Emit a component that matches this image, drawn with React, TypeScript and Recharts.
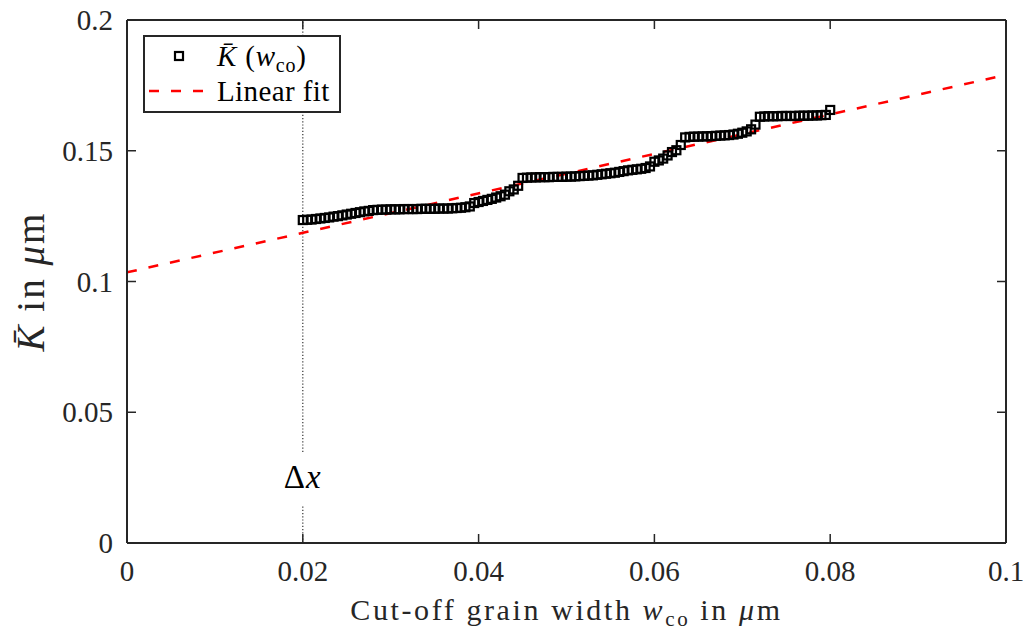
import React from "react";
import {
  ComposedChart,
  Scatter,
  Line,
  XAxis,
  YAxis,
  ReferenceLine,
  ReferenceDot,
} from "recharts";

// cut-off grain width (um) and mean K-bar values
const wco = [
  0.02, 0.0205, 0.021, 0.0215, 0.022, 0.0225, 0.023, 0.0235, 0.024, 0.0245,
  0.025, 0.0255, 0.026, 0.0265, 0.027, 0.0275, 0.028, 0.0285, 0.029, 0.0295,
  0.03, 0.0305, 0.031, 0.0315, 0.032, 0.0325, 0.033, 0.0335, 0.034, 0.0345,
  0.035, 0.0355, 0.036, 0.0365, 0.037, 0.0375, 0.038, 0.0385, 0.039, 0.0395,
  0.04, 0.0405, 0.041, 0.0415, 0.042, 0.0425, 0.043, 0.0435, 0.044, 0.0445,
  0.045, 0.0455, 0.046, 0.0465, 0.047, 0.0475, 0.048, 0.0485, 0.049, 0.0495,
  0.05, 0.0505, 0.051, 0.0515, 0.052, 0.0525, 0.053, 0.0535, 0.054, 0.0545,
  0.055, 0.0555, 0.056, 0.0565, 0.057, 0.0575, 0.058, 0.0585, 0.059, 0.0595,
  0.06, 0.0605, 0.061, 0.0615, 0.062, 0.0625, 0.063, 0.0635, 0.064, 0.0645,
  0.065, 0.0655, 0.066, 0.0665, 0.067, 0.0675, 0.068, 0.0685, 0.069, 0.0695,
  0.07, 0.0705, 0.071, 0.0715, 0.072, 0.0725, 0.073, 0.0735, 0.074, 0.0745,
  0.075, 0.0755, 0.076, 0.0765, 0.077, 0.0775, 0.078, 0.0785, 0.079, 0.0795,
  0.08,
];

const kBar = [
  0.1235, 0.1236, 0.1237, 0.1239, 0.1241, 0.1243, 0.1245, 0.1248, 0.125, 0.1253,
  0.1256, 0.1259, 0.1262, 0.1265, 0.1268, 0.127, 0.1273, 0.1274, 0.1275, 0.1275,
  0.1276, 0.1276, 0.1276, 0.1277, 0.1277, 0.1277, 0.1277, 0.1278, 0.1278, 0.1278,
  0.1278, 0.1279, 0.1279, 0.1279, 0.128, 0.1281, 0.1282, 0.1284, 0.1287, 0.13,
  0.1304, 0.1308, 0.1312, 0.1316, 0.1321, 0.1326, 0.1332, 0.1345, 0.1352, 0.1366,
  0.1396, 0.1397, 0.1398, 0.1398, 0.1399, 0.1399, 0.1399, 0.14, 0.14, 0.14,
  0.1401, 0.1401, 0.1402, 0.1403, 0.1404, 0.1405, 0.1406, 0.1408, 0.141, 0.1412,
  0.1414, 0.1416, 0.1419, 0.1422, 0.1425, 0.1427, 0.1429, 0.1431, 0.1434, 0.144,
  0.1458, 0.1463, 0.147, 0.1482, 0.1495, 0.1502, 0.1522, 0.1551, 0.1553, 0.1554,
  0.1554, 0.1555, 0.1555, 0.1556, 0.1557, 0.1558, 0.1559, 0.156, 0.1562, 0.1565,
  0.1569, 0.1574, 0.1582, 0.16, 0.163, 0.1631, 0.1632, 0.1632, 0.1632, 0.1633,
  0.1633, 0.1633, 0.1633, 0.1634, 0.1634, 0.1634, 0.1635, 0.1635, 0.1636, 0.1637,
  0.1656,
];

// linear fit end points
const fitX = [0, 0.1];
const fitY = [0.1035, 0.179];

const xTicks = [0, 0.02, 0.04, 0.06, 0.08, 0.1];
const xTickLabels = ["0", "0.02", "0.04", "0.06", "0.08", "0.1"];
const yTicks = [0, 0.05, 0.1, 0.15, 0.2];
const yTickLabels = ["0", "0.05", "0.1", "0.15", "0.2"];

const points = wco.map((x, i) => ({ x, y: kBar[i] }));
const fitData = fitX.map((x, i) => ({ x, y: fitY[i] }));

const FONT = "'Liberation Serif', 'Times New Roman', serif";
const AXIS = "#262626";
const W = 1015;
const H = 626;
const TOP = 12;
const BOTTOM = 535;
const LEFT = 119;
const RIGHT = 998;
const TICK = 9;

const BottomTick = (props: any) => {
  const { x, payload } = props;
  const i = xTicks.indexOf(payload.value);
  return (
    <g>
      <line x1={x} x2={x} y1={BOTTOM} y2={BOTTOM - TICK} stroke={AXIS} strokeWidth={1.5} />
      <text x={x} y={BOTTOM + 38} textAnchor="middle" fontFamily={FONT} fontSize={29} fill="#262626">
        {xTickLabels[i]}
      </text>
    </g>
  );
};

const TopTick = (props: any) => {
  const { x } = props;
  return <line x1={x} x2={x} y1={TOP} y2={TOP + TICK} stroke={AXIS} strokeWidth={1.5} />;
};

const LeftTick = (props: any) => {
  const { y, payload } = props;
  const i = yTicks.indexOf(payload.value);
  return (
    <g>
      <line x1={LEFT} x2={LEFT + TICK} y1={y} y2={y} stroke={AXIS} strokeWidth={1.5} />
      <text x={LEFT - 14} y={y + 10} textAnchor="end" fontFamily={FONT} fontSize={29} fill="#262626">
        {yTickLabels[i]}
      </text>
    </g>
  );
};

const RightTick = (props: any) => {
  const { y } = props;
  return <line x1={RIGHT} x2={RIGHT - TICK} y1={y} y2={y} stroke={AXIS} strokeWidth={1.5} />;
};

const SquareMarker = (props: any) => {
  const { cx, cy } = props;
  return <rect x={cx - 4} y={cy - 4} width={8} height={8} fill="none" stroke="#000" strokeWidth={2.2} />;
};

const XTitle = () => (
  <text
    x={(LEFT + RIGHT) / 2}
    y={BOTTOM + 77}
    textAnchor="middle"
    fontFamily={FONT}
    fontSize={30}
    letterSpacing={2.6}
    fill="#262626"
  >
    Cut-off grain width <tspan fontStyle="italic">w</tspan>
    <tspan fontSize={21} dy={6}>co</tspan>
    <tspan dy={-6}> in </tspan>
    <tspan fontStyle="italic">μ</tspan>m
  </text>
);

const YTitle = () => {
  const cx = 36;
  const cy = (TOP + BOTTOM) / 2;
  return (
    <text
      x={cx}
      y={cy}
      transform={`rotate(-90, ${cx}, ${cy})`}
      textAnchor="middle"
      fontFamily={FONT}
      fontSize={39}
      letterSpacing={2}
      fill="#262626"
    >
      <tspan fontStyle="italic">K̄</tspan> in <tspan fontStyle="italic">μ</tspan>m
    </text>
  );
};

const DeltaLabel = (props: any) => {
  const { viewBox } = props;
  const x = viewBox.x + viewBox.width / 2;
  const y = viewBox.y + viewBox.height / 2;
  return (
    <text x={x} y={y + 11} textAnchor="middle" fontFamily={FONT} fontSize={33} letterSpacing={1} fill="#000">
      Δ<tspan fontStyle="italic">x</tspan>
    </text>
  );
};

function ChartLegend() {
  return (
    <div style={{ position: "absolute", left: 135, top: 27 }}>
      <svg width={199} height={79}>
        <rect x={1} y={1} width={196} height={76} fill="#fff" stroke={AXIS} strokeWidth={2} />
        <rect x={32} y={17} width={8} height={8} fill="none" stroke="#000" strokeWidth={2.2} />
        <text x={74} y={31} fontFamily={FONT} fontSize={29} letterSpacing={0.8} fill="#000">
          <tspan fontStyle="italic">K̄</tspan> (<tspan fontStyle="italic">w</tspan>
          <tspan fontSize={20} dy={6}>co</tspan>
          <tspan dy={-6}>)</tspan>
        </text>
        <line x1={6} x2={60} y1={56} y2={56} stroke="#ff0000" strokeWidth={2.5} strokeDasharray="10 12" />
        <text x={74} y={66} fontFamily={FONT} fontSize={29} letterSpacing={0.4} fill="#000">
          Linear fit
        </text>
      </svg>
    </div>
  );
}

export default function App() {
  return (
    <div style={{ position: "relative", width: W, height: H, background: "#fff" }}>
      <ComposedChart width={W} height={H} margin={{ top: TOP - 1, right: W - RIGHT - 1, bottom: 0, left: 0 }}>
        <XAxis
          xAxisId="b"
          dataKey="x"
          type="number"
          domain={[0, 0.1]}
          ticks={xTicks}
          interval={0}
          height={H - BOTTOM}
          axisLine={{ stroke: AXIS, strokeWidth: 2 }}
          tickLine={false}
          tick={<BottomTick />}
          label={<XTitle />}
          allowDataOverflow
        />
        <XAxis
          xAxisId="t"
          orientation="top"
          dataKey="x"
          type="number"
          domain={[0, 0.1]}
          ticks={xTicks}
          interval={0}
          height={1}
          axisLine={{ stroke: AXIS, strokeWidth: 2 }}
          tickLine={false}
          tick={<TopTick />}
          allowDataOverflow
        />
        <YAxis
          yAxisId="l"
          type="number"
          domain={[0, 0.2]}
          ticks={yTicks}
          interval={0}
          width={LEFT}
          axisLine={{ stroke: AXIS, strokeWidth: 2 }}
          tickLine={false}
          tick={<LeftTick />}
          label={<YTitle />}
          allowDataOverflow
        />
        <YAxis
          yAxisId="r"
          orientation="right"
          type="number"
          domain={[0, 0.2]}
          ticks={yTicks}
          interval={0}
          width={1}
          axisLine={{ stroke: AXIS, strokeWidth: 2 }}
          tickLine={false}
          tick={<RightTick />}
          allowDataOverflow
        />
        <ReferenceLine
          xAxisId="b"
          yAxisId="l"
          segment={[{ x: 0.02, y: 0.0348 }, { x: 0.02, y: 0.2 }]}
          stroke="#333"
          strokeWidth={1.2}
          strokeDasharray="1.2 2"
        />
        <ReferenceLine
          xAxisId="b"
          yAxisId="l"
          segment={[{ x: 0.02, y: 0 }, { x: 0.02, y: 0.0145 }]}
          stroke="#333"
          strokeWidth={1.2}
          strokeDasharray="1.2 2"
        />
        <ReferenceDot
          xAxisId="b"
          yAxisId="l"
          x={0.02}
          y={0.0252}
          r={0}
          fill="none"
          stroke="none"
          label={<DeltaLabel />}
        />
        <Scatter
          xAxisId="b"
          yAxisId="l"
          data={points}
          dataKey="y"
          shape={<SquareMarker />}
          isAnimationActive={false}
        />
        <Line
          xAxisId="b"
          yAxisId="l"
          data={fitData}
          dataKey="y"
          stroke="#ff0000"
          strokeWidth={2.5}
          strokeDasharray="10 12"
          dot={false}
          activeDot={false}
          isAnimationActive={false}
        />
      </ComposedChart>
      <ChartLegend />
    </div>
  );
}
